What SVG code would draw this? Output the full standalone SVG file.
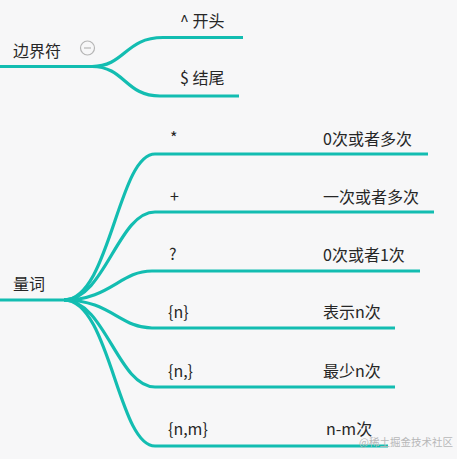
<svg xmlns="http://www.w3.org/2000/svg" width="457" height="459" viewBox="0 0 457 459">
<style>
.bg{fill:#f7f7f8}
.ln{fill:none;stroke:#13bdb1;stroke-width:3.2;stroke-linecap:butt}
.t{font-family:"Microsoft YaHei","Noto Sans CJK SC","Noto Sans",sans-serif;font-size:16px;fill:#262626}
.wm{font-family:"Noto Sans CJK SC",sans-serif;font-size:10.5px;fill:#b8b8b8}
</style>
<rect class="bg" x="0" y="0" width="457" height="459"/>
<g id="connectors">
<path class="ln" d="M0,66.5 H92 C125,66.5 125,37.5 163,37.5 H243"/>
<path class="ln" d="M92,66.5 C125,66.5 125,96 160,96 H239"/>
<path class="ln" d="M0,300 H64"/>
<path class="ln" d="M64,300 C110,300 118,154 155,154 H428"/>
<path class="ln" d="M64,300 C105,300 118,212 155,212 H434"/>
<path class="ln" d="M64,300 C110,300 120,271 152,271 H420"/>
<path class="ln" d="M64,300 C110,300 120,328 152,328 H395"/>
<path class="ln" d="M64,300 C105,300 118,387 155,387 H395"/>
<path class="ln" d="M64,300 C110,300 118,446 155,446 H388"/>
</g>
<g id="node-boundary">
<text class="t" x="13" y="57">边界符</text>
<circle cx="87.5" cy="48" r="7" fill="none" stroke="#b5b5b5" stroke-width="1.2"/>
<line x1="84" y1="48" x2="91" y2="48" stroke="#b5b5b5" stroke-width="1.2"/>
</g>
<g id="node-start"><text class="t" x="180" y="27">^ 开头</text></g>
<g id="node-end"><text class="t" x="180" y="84">$ 结尾</text></g>
<g id="node-quantifier"><text class="t" x="13" y="290">量词</text></g>
<g id="node-star"><text class="t" x="170" y="144">*</text><text class="t" x="323" y="145">0次或者多次</text></g>
<g id="node-plus"><text class="t" x="170" y="202">+</text><text class="t" x="323" y="203">一次或者多次</text></g>
<g id="node-q"><text class="t" x="169" y="260">?</text><text class="t" x="323" y="261">0次或者1次</text></g>
<g id="node-n"><text class="t" x="168" y="318">{n}</text><text class="t" x="323" y="318">表示n次</text></g>
<g id="node-n-comma"><text class="t" x="168" y="377">{n,}</text><text class="t" x="323" y="377">最少n次</text></g>
<g id="node-n-m"><text class="t" x="168" y="435">{n,m}</text><text class="t" x="326" y="435">n-m次</text></g>
<text class="wm" x="359" y="446">@稀土掘金技术社区</text>
</svg>
